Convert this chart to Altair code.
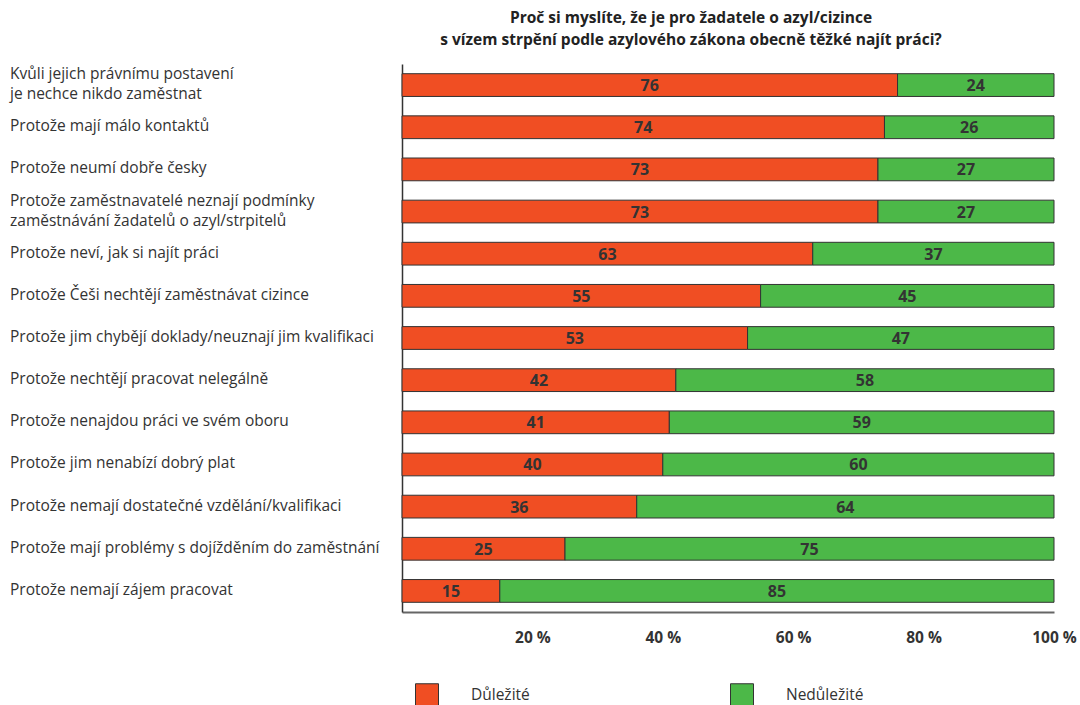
import altair as alt
import pandas as pd

categories = [
    "Kvůli jejich právnímu postavení|je nechce nikdo zaměstnat",
    "Protože mají málo kontaktů",
    "Protože neumí dobře česky",
    "Protože zaměstnavatelé neznají podmínky|zaměstnávání žadatelů o azyl/strpitelů",
    "Protože neví, jak si najít práci",
    "Protože Češi nechtějí zaměstnávat cizince",
    "Protože jim chybějí doklady/neuznají jim kvalifikaci",
    "Protože nechtějí pracovat nelegálně",
    "Protože nenajdou práci ve svém oboru",
    "Protože jim nenabízí dobrý plat",
    "Protože nemají dostatečné vzdělání/kvalifikaci",
    "Protože mají problémy s dojížděním do zaměstnání",
    "Protože nemají zájem pracovat",
]
important = [76, 74, 73, 73, 63, 55, 53, 42, 41, 40, 36, 25, 15]
not_important = [24, 26, 27, 27, 37, 45, 47, 58, 59, 60, 64, 75, 85]
series = ["Důležité", "Nedůležité"]
colors = ["#F04E23", "#4CB848"]
ticks = [20, 40, 60, 80, 100]

rows = []
for c, a, b in zip(categories, important, not_important):
    rows.append({"cat": c, "series": series[0], "value": a, "ord": 0})
    rows.append({"cat": c, "series": series[1], "value": b, "ord": 1})
df = pd.DataFrame(rows)

# label lines (category text split into display lines)
line_rows = []
for c in categories:
    parts = c.split("|")
    if len(parts) == 1:
        line_rows.append({"cat": c, "line": parts[0], "pos": "single"})
    else:
        line_rows.append({"cat": c, "line": parts[0], "pos": "first"})
        line_rows.append({"cat": c, "line": parts[1], "pos": "second"})
lines_df = pd.DataFrame(line_rows)

FONT = "Open Sans"
LABEL_SIZE = 15.5

base = alt.Chart(df).transform_stack(
    stack="value", groupby=["cat"], as_=["v0", "v1"],
    sort=[alt.SortField("ord", order="ascending")]
).transform_calculate(mid="(datum.v0 + datum.v1) / 2")

y = alt.Y("cat:N", sort=categories, title=None,
          scale=alt.Scale(paddingInner=0.46, paddingOuter=0.23),
          axis=alt.Axis(labels=False, ticks=False, tickSize=0,
                        domainColor="#333", domainWidth=1.5))

bars = base.mark_bar(stroke="#333", strokeWidth=1).encode(
    x=alt.X("v0:Q", title=None,
            scale=alt.Scale(domain=[0, 100], nice=False),
            axis=alt.Axis(values=ticks, labelExpr="datum.value + ' %'", ticks=False, tickSize=0,
                          labelFont=FONT, labelFontWeight="bold", labelFontSize=15.5,
                          labelColor="#333", labelPadding=18, grid=False,
                          domainColor="#666", domainWidth=2, labelFlush=False)),
    x2="v1:Q",
    y=y,
    color=alt.Color("series:N", scale=alt.Scale(domain=series, range=colors),
                    legend=alt.Legend(title=None, orient="none", legendX=13, legendY=619,
                                      direction="horizontal", symbolType="square",
                                      symbolSize=529, symbolStrokeColor="#333",
                                      symbolStrokeWidth=1, symbolOpacity=1,
                                      labelFont=FONT, labelFontSize=15.5, labelColor="#333",
                                      labelOffset=32, columnPadding=198, padding=0)),
)

values = base.mark_text(font=FONT, fontWeight="bold", fontSize=16, color="#333",
                        baseline="middle", dy=1).encode(
    x=alt.X("mid:Q"),
    y=alt.Y("cat:N", sort=categories),
    text="value:Q",
)

lbase = alt.Chart(lines_df)
label_layers = []
for pos, dy in [("single", -1), ("first", -11), ("second", 9)]:
    label_layers.append(
        lbase.transform_filter(alt.datum.pos == pos).mark_text(
            font=FONT, fontSize=LABEL_SIZE, color="#333", align="left",
            baseline="middle", dy=dy).encode(
            x=alt.value(-392),
            y=alt.Y("cat:N", sort=categories),
            text="line:N",
        )
    )

chart = alt.layer(bars, values, *label_layers).properties(
    width=652, height=548,
    title=alt.TitleParams(
        ["Proč si myslíte, že je pro žadatele o azyl/cizince",
         "s vízem strpění podle azylového zákona obecně těžké najít práci?"],
        font=FONT, fontSize=15.5, fontWeight="bold", color="#222",
        anchor="middle", dx=-37, offset=16, lineHeight=22),
    autosize=alt.AutoSizeParams(type="none"),
    padding={"left": 402, "top": 64, "right": 26, "bottom": 93},
).configure_view(stroke=None)

chart.save("out.html", embed_options={"renderer": "svg", "actions": False})
